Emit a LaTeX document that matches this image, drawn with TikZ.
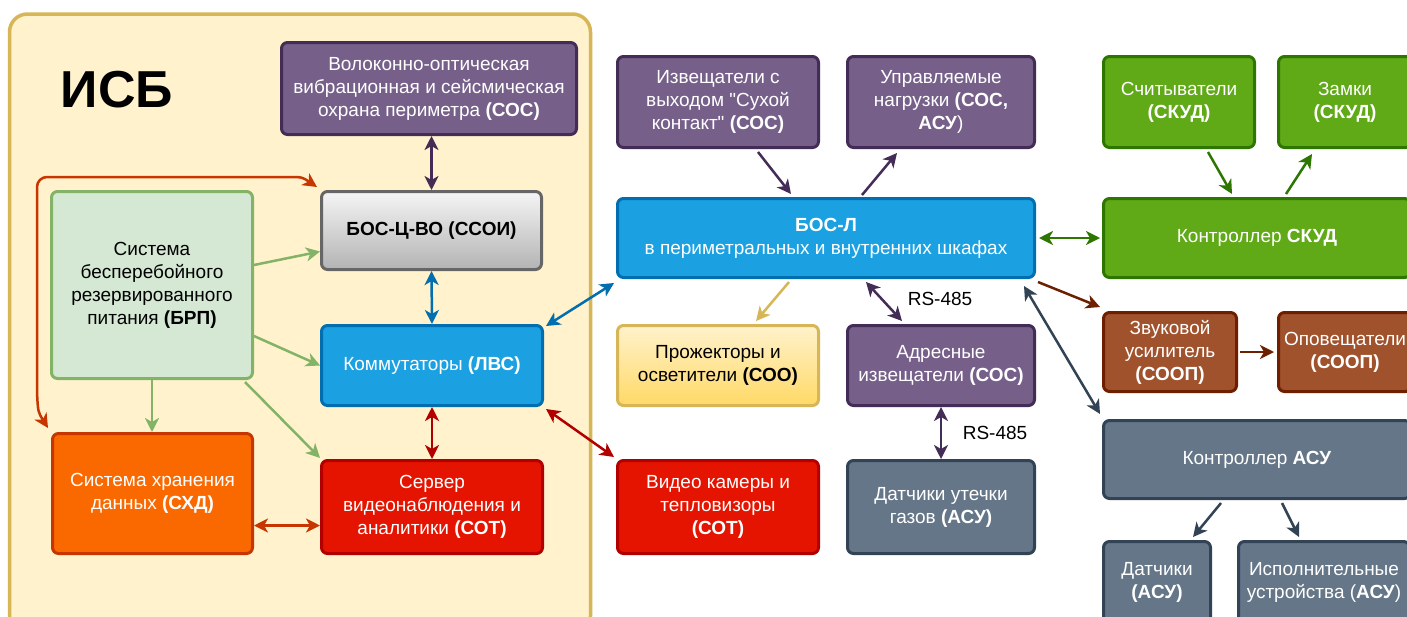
\documentclass[tikz,border=0pt]{standalone}
\usepackage{fontspec}
\setmainfont{Liberation Sans}
\usetikzlibrary{arrows.meta,calc}
\definecolor{purF}{HTML}{76608A}\definecolor{purS}{HTML}{432D57}
\definecolor{bluF}{HTML}{1BA1E2}\definecolor{bluS}{HTML}{006EAF}
\definecolor{redF}{HTML}{E51400}\definecolor{redS}{HTML}{B20000}
\definecolor{oraF}{HTML}{FA6800}\definecolor{oraS}{HTML}{C73500}
\definecolor{grnF}{HTML}{60A917}\definecolor{grnS}{HTML}{2D7600}
\definecolor{brnF}{HTML}{A0522D}\definecolor{brnS}{HTML}{6D1F00}
\definecolor{slaF}{HTML}{647687}\definecolor{slaS}{HTML}{314354}
\definecolor{lgrF}{HTML}{D5E8D4}\definecolor{lgrS}{HTML}{82B366}
\definecolor{yelF}{HTML}{FFF2CC}\definecolor{yelS}{HTML}{D6B656}\definecolor{yelB}{HTML}{FFD966}
\definecolor{gryT}{HTML}{F5F5F5}\definecolor{gryB}{HTML}{B3B3B3}\definecolor{gryS}{HTML}{666666}
\newcommand{\bfs}{\fontsize{19}{23}\selectfont}
\newcommand{\sq}{\XeTeXglyph\XeTeXcharglyph"22\relax}
\begin{document}
\begin{tikzpicture}[x=1pt,y=-1pt,
  >={Stealth[length=14pt,width=14pt,inset=4pt]},
  box/.style={draw, line width=3pt, rounded corners=6pt, align=center, inner sep=0pt, font=\bfs, text=white},
  purbox/.style={box, fill=purF, draw=purS},
  blubox/.style={box, fill=bluF, draw=bluS},
  redbox/.style={box, fill=redF, draw=redS},
  orabox/.style={box, fill=oraF, draw=oraS},
  grnbox/.style={box, fill=grnF, draw=grnS},
  brnbox/.style={box, fill=brnF, draw=brnS},
  slabox/.style={box, fill=slaF, draw=slaS},
  conn/.style={line width=2.5pt},
  lbl/.style={font=\bfs, text=black, fill=white, inner sep=1pt}
]
\useasboundingbox (0,0) rectangle (1407,616);
\clip (0,0) rectangle (1407,616);
\fill[white] (0,0) rectangle (1407,616);
% container
\node[draw=yelS, fill=yelF, line width=3.5pt, rounded corners=18pt, minimum width=581pt, minimum height=620pt, inner sep=0pt] (isb) at (300,324) {};
\node[font=\fontsize{52}{60}\selectfont\bfseries, text=black] (isbt) at (117,90) {ИСБ};
% ISB boxes
\node[purbox, minimum width=295pt, minimum height=92pt] (vosos) at (429,88.5) {Волоконно-оптическая\\вибрационная и сейсмическая\\охрана периметра \textbf{(СОС)}};
\node[box, draw=gryS, top color=gryT, bottom color=gryB, text=black, minimum width=220pt, minimum height=78pt] (bosc) at (431.5,230.5) {\textbf{БОС-Ц-ВО (ССОИ)}};
\node[box, fill=lgrF, draw=lgrS, text=black, minimum width=201pt, minimum height=187pt] (brp) at (152,285) {Система\\бесперебойного\\резервированного\\питания \textbf{(БРП)}};
\node[blubox, minimum width=221pt, minimum height=80pt] (komm) at (432,365.5) {Коммутаторы \textbf{(ЛВС)}};
\node[orabox, minimum width=200pt, minimum height=120pt] (shd) at (152.5,493.5) {Система хранения\\данных \textbf{(СХД)}};
\node[redbox, minimum width=221pt, minimum height=93pt] (server) at (432,507) {Сервер\\видеонаблюдения и\\аналитики \textbf{(СОТ)}};
% middle column
\node[purbox, minimum width=201pt, minimum height=91pt] (izv) at (718,102) {Извещатели с\\выходом \sq Сухой\\контакт\sq{} \textbf{(СОС)}};
\node[purbox, minimum width=187pt, minimum height=91pt] (upr) at (941,102) {Управляемые\\нагрузки \textbf{(СОС,}\\\textbf{АСУ})};
\node[blubox, minimum width=417pt, minimum height=79pt] (bosl) at (826,238) {\textbf{БОС-Л}\\в периметральных и внутренних шкафах};
\node[box, draw=yelS, top color=yelF, bottom color=yelB, text=black, minimum width=201pt, minimum height=80pt] (proj) at (718,365.5) {Прожекторы и\\осветители \textbf{(СОО)}};
\node[purbox, minimum width=187pt, minimum height=80pt] (adr) at (941,365.5) {Адресные\\извещатели \textbf{(СОС)}};
\node[redbox, minimum width=201pt, minimum height=93pt] (video) at (718,507) {Видео камеры и\\тепловизоры\\\textbf{(СОТ)}};
\node[slabox, minimum width=187pt, minimum height=93pt] (gas) at (941,507) {Датчики утечки\\газов \textbf{(АСУ)}};
% right column
\node[grnbox, minimum width=151pt, minimum height=91pt] (sch) at (1179,102) {Считыватели\\\textbf{(СКУД)}};
\node[grnbox, minimum width=133pt, minimum height=91pt] (zam) at (1345,102) {Замки\\\textbf{(СКУД)}};
\node[grnbox, minimum width=307pt, minimum height=79pt] (skud) at (1257,238) {Контроллер \textbf{СКУД}};
\node[brnbox, minimum width=133pt, minimum height=79pt] (zvuk) at (1170,352) {Звуковой\\усилитель\\\textbf{(СООП)}};
\node[brnbox, minimum width=133pt, minimum height=79pt] (opov) at (1345,352) {Оповещатели\\\textbf{(СООП)}};
\node[slabox, minimum width=307pt, minimum height=78pt] (asu) at (1257,459.5) {Контроллер \textbf{АСУ}};
\node[slabox, minimum width=107pt, minimum height=82pt] (dat) at (1157,582.5) {Датчики\\\textbf{(АСУ)}};
\node[slabox, minimum width=171pt, minimum height=82pt] (isp) at (1324,582.5) {Исполнительные\\устройства (\textbf{АСУ})};
% connectors inside ISB
\draw[conn, draw=purS, <->] (bosc.north |- vosos.south) -- (bosc.north);
\draw[conn, draw=bluS, <->] (bosc.south) -- (komm.north);
\draw[conn, draw=redS, <->] (komm.south) -- (server.north);
\draw[conn, draw=oraS, <->] ([yshift=-32pt]shd.east) -- ([yshift=-32pt]shd.east -| server.west);
\draw[conn, draw=lgrS, ->] ([yshift=20pt]brp.east) -- ([yshift=-21pt]bosc.west);
\draw[conn, draw=lgrS, ->] ([yshift=-51pt]brp.east) -- (komm.west);
\draw[conn, draw=lgrS, ->] ([xshift=-9pt,yshift=-2pt]brp.south east) -- ([yshift=1pt]server.north west);
\draw[conn, draw=lgrS, ->] (brp.south) -- (brp.south |- shd.north);
\draw[conn, draw=oraS, <->] ([xshift=-3pt,yshift=4pt]shd.north west) .. controls (38,412) .. (37,392) [rounded corners=10pt] -- (37,177) -- (280,177) [sharp corners] .. controls (302,177) .. ([xshift=-3pt,yshift=3pt]bosc.north west);
% to middle column
\draw[conn, draw=bluS, <->] ([xshift=2pt,yshift=-2pt]komm.north east) -- ([xshift=-2pt,yshift=-4pt]bosl.south west);
\draw[conn, draw=redS, <->] ([xshift=2pt,yshift=-2pt]komm.south east) -- ([xshift=-2pt,yshift=2pt]video.north west);
\draw[conn, draw=purS, ->] ([xshift=40pt,yshift=-3pt]izv.south) -- ([xshift=-35pt,yshift=3pt]bosl.north);
\draw[conn, draw=purS, ->] ([xshift=36pt,yshift=2pt]bosl.north) -- ([xshift=-44pt,yshift=-4pt]upr.south);
\draw[conn, draw=yelS, ->] ([xshift=-37pt,yshift=-3pt]bosl.south) -- ([xshift=38pt,yshift=3pt]proj.north);
\draw[conn, draw=purS, <->] ([xshift=40pt,yshift=-3pt]bosl.south) -- ([xshift=-39pt,yshift=3pt]adr.north);
\node[lbl] (rs1) at (940,299) {RS-485};
\draw[conn, draw=purS, <->] (adr.south) -- (gas.north);
\node[lbl] (rs2) at (995,433) {RS-485};
% right column connectors
\draw[conn, draw=grnS, <->] ([xshift=3pt]bosl.east) -- ([xshift=-2pt]skud.west);
\draw[conn, draw=grnS, ->] ([xshift=29pt,yshift=-3pt]sch.south) -- ([xshift=-25pt,yshift=3pt]skud.north);
\draw[conn, draw=grnS, ->] ([xshift=29pt,yshift=3pt]skud.north) -- ([xshift=-33pt,yshift=-5pt]zam.south);
\draw[conn, draw=brnS, ->] ([xshift=2pt,yshift=-3pt]bosl.south east) -- ([xshift=-2pt,yshift=4pt]zvuk.north west);
\draw[conn, draw=brnS, ->] ([xshift=2pt]zvuk.east) -- ([xshift=-3pt]opov.west);
\draw[conn, draw=slaS, <->] ([xshift=-2pt,yshift=5pt]asu.north west) -- ([xshift=-12pt,yshift=-7pt]bosl.south east);
\draw[conn, draw=slaS, ->] ([xshift=-36pt,yshift=-3pt]asu.south) -- ([xshift=36pt,yshift=3pt]dat.north);
\draw[conn, draw=slaS, ->] ([xshift=25pt,yshift=-3pt]asu.south) -- ([xshift=-25pt,yshift=3pt]isp.north);
\end{tikzpicture}
\end{document}
